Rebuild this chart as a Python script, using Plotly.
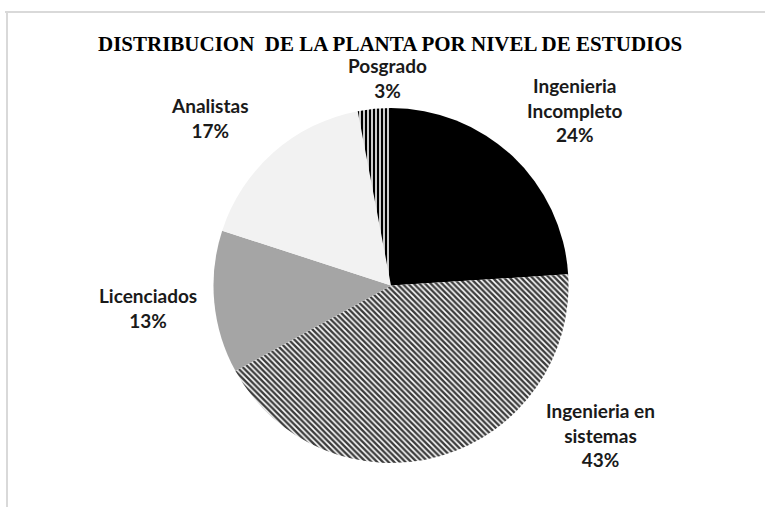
import plotly.graph_objects as go

categories = ["Ingenieria<br>Incompleto", "Ingenieria en<br>sistemas", "Licenciados", "Analistas", "Posgrado"]
values = [24, 43, 13, 17, 3]
colors = ["#000000", "#ffffff", "#a5a5a5", "#f2f2f2", "#ffffff"]
pattern_shapes = ["", "\\", "", "", "|"]
pattern_fg = ["#000000", "#3c3c3c", "#a5a5a5", "#f2f2f2", "#000000"]
title_text = "DISTRIBUCION  DE LA PLANTA POR NIVEL DE ESTUDIOS"

W, H = 765, 507
# label anchor positions (pixels) in the layout
label_pos = [(575, 110), (600, 435), (148, 308), (210, 118), (387, 78)]

fig = go.Figure(go.Pie(
    labels=categories,
    values=values,
    sort=False,
    direction="clockwise",
    rotation=0,
    textinfo="none",
    hoverinfo="label+percent",
    marker=dict(
        colors=colors,
        line=dict(width=0),
        pattern=dict(shape=pattern_shapes, fgcolor=pattern_fg, bgcolor=colors,
                     size=4, solidity=0.6),
    ),
    domain=dict(x=[212 / W, 570 / W], y=[(H - 463) / H, (H - 108) / H]),
    showlegend=False,
))

annotations = []
for (px, py), cat, v in zip(label_pos, categories, values):
    annotations.append(dict(
        x=px / W, y=1 - py / H, xref="paper", yref="paper",
        text=f"<b>{cat}<br>{v}%</b>", showarrow=False,
        font=dict(family="Lato", size=19, color="#1a1a1a"),
        xanchor="center", yanchor="middle", align="center",
    ))
annotations.append(dict(
    x=390 / W, y=1 - 44 / H, xref="paper", yref="paper",
    text=f"<b>{title_text}</b>", showarrow=False,
    font=dict(family="Liberation Serif", size=21, color="#000000"),
    xanchor="center", yanchor="middle",
))

fig.update_layout(
    width=W, height=H,
    margin=dict(l=0, r=0, t=0, b=0),
    paper_bgcolor="white", plot_bgcolor="white",
    annotations=annotations,
    shapes=[
        dict(type="line", xref="paper", yref="paper", x0=5 / W, x1=1, y0=1 - 12 / H, y1=1 - 12 / H,
             line=dict(color="#d9d9d9", width=2)),
        dict(type="line", xref="paper", yref="paper", x0=7 / W, x1=7 / W, y0=0, y1=1 - 12 / H,
             line=dict(color="#d9d9d9", width=2)),
    ],
)

fig.write_html("out.html", config={"displayModeBar": False},
               post_script="document.body.style.margin='0';")
